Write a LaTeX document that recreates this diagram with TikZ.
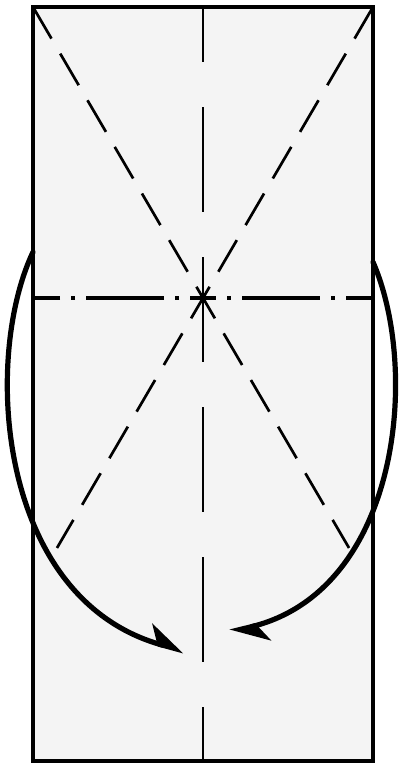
\documentclass[tikz,border=0pt]{standalone}
\usetikzlibrary{arrows.meta,calc}
\definecolor{paper}{RGB}{244,244,244}
\begin{document}
\begin{tikzpicture}[x=1pt,y=-1pt,
  crease/.style={line width=2.7pt, dash pattern=on 36.6pt off 17.4pt},
  valley/.style={line width=2.7pt, dash pattern=on 105pt off 45pt, dash phase=50pt},
  mountain/.style={line width=3.6pt, dash pattern=on 78pt off 11pt on 4pt off 11pt, dash phase=65pt},
  edge/.style={line width=3.2pt},
  foldarrow/.style={line width=5.2pt, line cap=round, -{Stealth[length=33pt,width=36pt,inset=10pt,harpoon]}}]
\useasboundingbox (0,0) rectangle (401,763);
\coordinate (TL) at (33,7);
\coordinate (TR) at (373,7);
\coordinate (BL) at (33,761);
\coordinate (BR) at (373,761);
\coordinate (C) at (203,298);
\coordinate (VT) at (203,7);
\coordinate (VB) at (203,761);
\coordinate (HL) at (33,298);
\coordinate (HR) at (373,298);
\coordinate (DR) at ($(TL)!1.859!(C)$);
\coordinate (DL) at ($(TR)!1.859!(C)$);
\fill[paper] (TL) rectangle (BR);
\draw[valley] (VT) -- (VB);
\draw[crease] (TL) -- (DR);
\draw[crease] (TR) -- (DL);
\draw[mountain] (C) -- (HL);
\draw[mountain] (C) -- (HR);
\draw[edge] (TL) rectangle (BR);
\coordinate (LA) at (33,252);
\coordinate (LT) at (184,651);
\coordinate (RA) at (373,262);
\coordinate (RT) at (230,632);
\draw[foldarrow] (LA) .. controls (-18,360) and (-2,600) .. (LT);
\draw[foldarrow] (RA) .. controls (420,370) and (400,590) .. (RT);
\end{tikzpicture}
\end{document}
